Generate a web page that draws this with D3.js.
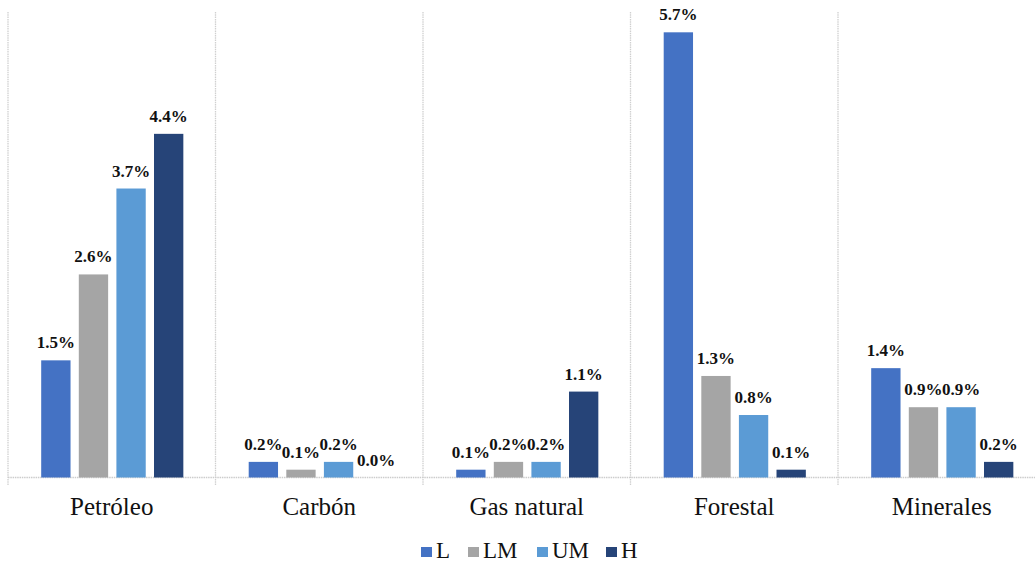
<!DOCTYPE html>
<html>
<head>
<meta charset="utf-8">
<script src="https://cdn.jsdelivr.net/npm/d3@7"></script>
<style>
  html, body { margin: 0; padding: 0; background: #ffffff; }
  svg { display: block; }
</style>
</head>
<body>
<svg id="chart" width="1035" height="563"></svg>
<script>
// Sectors and income groups
const categories = ["Petróleo", "Carbón", "Gas natural", "Forestal", "Minerales"];
const seriesNames = ["L", "LM", "UM", "H"];
const seriesColors = ["#4472C4", "#A5A5A5", "#5B9BD5", "#264478"];

// Share (%) per sector for each income group
const valuesL  = [1.5, 0.2, 0.1, 5.7, 1.4];
const valuesLM = [2.6, 0.1, 0.2, 1.3, 0.9];
const valuesUM = [3.7, 0.2, 0.2, 0.8, 0.9];
const valuesH  = [4.4, 0.0, 1.1, 0.1, 0.2];

const seriesValues = [valuesL, valuesLM, valuesUM, valuesH];

const svg = d3.select("#chart");
const plotLeft = 8, plotRight = 1045.5, plotTop = 12, plotBottom = 477.5;

const x0 = d3.scaleBand().domain(categories).range([plotLeft, plotRight]).paddingInner(0).paddingOuter(0);
const catW = x0.bandwidth();
const x1 = d3.scaleBand().domain(seriesNames).range([catW * 0.16, catW * 0.845]).paddingInner(0.22).paddingOuter(0);
const y = d3.scaleLinear().domain([0, 5.96]).range([plotBottom, plotTop]);

const serif = "'Liberation Serif', 'Times New Roman', serif";

// Vertical separators between categories
const seps = categories.map(c => x0(c)).concat([plotRight]);
svg.append("g").selectAll("line").data(seps).join("line")
  .attr("x1", d => d).attr("x2", d => d)
  .attr("y1", plotTop).attr("y2", plotBottom + 8)
  .attr("stroke", "#d0d0d0").attr("stroke-width", 1.3)
  .attr("stroke-dasharray", "1.5,0.8");

// Category axis line
svg.append("line")
  .attr("x1", plotLeft).attr("x2", plotRight)
  .attr("y1", plotBottom).attr("y2", plotBottom)
  .attr("stroke", "#cccccc").attr("stroke-width", 1.3)
  .attr("stroke-dasharray", "1.5,0.8");

const rows = [];
categories.forEach((c, i) => {
  seriesNames.forEach((s, j) => {
    rows.push({ cat: c, ser: s, value: seriesValues[j][i], color: seriesColors[j] });
  });
});

svg.append("g").selectAll("rect").data(rows).join("rect")
  .attr("x", d => x0(d.cat) + x1(d.ser))
  .attr("width", x1.bandwidth())
  .attr("y", d => y(d.value))
  .attr("height", d => plotBottom - y(d.value))
  .attr("fill", d => d.color);

svg.append("g").selectAll("text").data(rows).join("text")
  .attr("x", d => x0(d.cat) + x1(d.ser) + x1.bandwidth() / 2)
  .attr("y", d => y(d.value) - 12)
  .attr("text-anchor", "middle")
  .attr("font-family", serif)
  .attr("font-weight", "bold")
  .attr("font-size", "17px")
  .attr("fill", "#111")
  .text(d => d.value.toFixed(1) + "%");

// Category labels
svg.append("g").selectAll("text").data(categories).join("text")
  .attr("x", d => x0(d) + catW / 2)
  .attr("y", 515)
  .attr("text-anchor", "middle")
  .attr("font-family", serif)
  .attr("font-size", "25px")
  .attr("fill", "#111")
  .text(d => d);

// Legend
const legendX = [421, 468, 537, 606];
const legend = svg.append("g").selectAll("g").data(seriesNames).join("g")
  .attr("transform", (d, i) => `translate(${legendX[i]},547)`);
legend.append("rect").attr("width", 11).attr("height", 10)
  .attr("fill", (d, i) => seriesColors[i]);
legend.append("text")
  .attr("x", 15).attr("y", 10.5)
  .attr("font-family", serif)
  .attr("font-size", "23px")
  .attr("fill", "#111")
  .text(d => d);
</script>
</body>
</html>
